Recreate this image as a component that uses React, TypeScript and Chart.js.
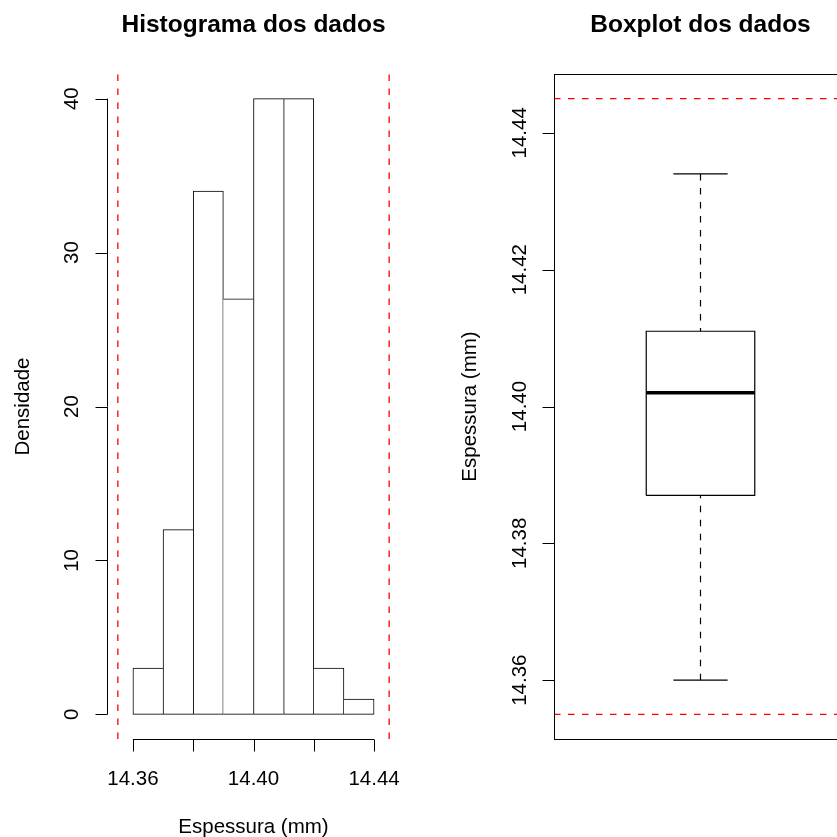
import React, { useEffect, useRef } from "react";
import { Chart, registerables } from "chart.js";

Chart.register(...registerables);

// ---------- data ----------
const binStarts = [14.36, 14.37, 14.38, 14.39, 14.4, 14.41, 14.42, 14.43];
const binWidth = 0.01;
const densities = [3, 12, 34, 27, 40, 40, 3, 1];

const histXTicks = [14.36, 14.38, 14.4, 14.42, 14.44];
const histXTickLabels = ["14.36", "", "14.40", "", "14.44"];
const histYTicks = [0, 10, 20, 30, 40];
const histYTickLabels = ["0", "10", "20", "30", "40"];
const histXRange = [14.3514, 14.4486];
const histYRange = [-1.6, 41.6];

const specLimits = [14.355, 14.445]; // LSL, USL

// min, q1, median, q3, max
const boxStats = [14.36, 14.387, 14.402, 14.411, 14.434];
const boxYTicks = [14.36, 14.38, 14.4, 14.42, 14.44];
const boxYTickLabels = ["14.36", "14.38", "14.40", "14.42", "14.44"];
const boxYRange = [14.3514, 14.4486];
const boxXRange = [0.46, 1.54];
const boxCenter = 1;
const boxHalfWidth = 0.2;
const capHalfWidth = 0.1;

const histTitle = "Histograma dos dados";
const histXLabel = "Espessura (mm)";
const histYLabel = "Densidade";
const boxTitle = "Boxplot dos dados";
const boxYLabel = "Espessura (mm)";

// ---------- style ----------
const FONT = "'Liberation Sans', Arial, Helvetica, sans-serif";
const AXIS_FONT = `20.5px ${FONT}`;
const TITLE_FONT = `bold 24.5px ${FONT}`;
const RED = "#ff0000";
const DASH = [6.5, 7.5];

function drawRotated(ctx: CanvasRenderingContext2D, text: string, x: number, y: number) {
  ctx.save();
  ctx.translate(x, y);
  ctx.rotate(-Math.PI / 2);
  ctx.textAlign = "center";
  ctx.textBaseline = "alphabetic";
  ctx.fillText(text, 0, 0);
  ctx.restore();
}

const histAxesPlugin = {
  id: "histAxes",
  afterDraw(chart: any) {
    const { ctx, chartArea } = chart;
    const xs = chart.scales.x;
    const ys = chart.scales.y;
    ctx.save();
    ctx.strokeStyle = "#000";
    ctx.fillStyle = "#000";
    ctx.lineWidth = 1;
    // y axis
    const ax = Math.round(chartArea.left) + 0.5;
    const yTop = ys.getPixelForValue(histYTicks[histYTicks.length - 1]);
    const yBot = ys.getPixelForValue(histYTicks[0]);
    ctx.beginPath();
    ctx.moveTo(ax, yBot);
    ctx.lineTo(ax, yTop);
    histYTicks.forEach((t) => {
      const py = Math.round(ys.getPixelForValue(t)) + 0.5;
      ctx.moveTo(ax - 12, py);
      ctx.lineTo(ax, py);
    });
    ctx.stroke();
    ctx.font = AXIS_FONT;
    histYTicks.forEach((t, i) => {
      drawRotated(ctx, histYTickLabels[i], chartArea.left - 29, ys.getPixelForValue(t));
    });
    // x axis
    const ay = Math.round(chartArea.bottom) + 0.5;
    ctx.beginPath();
    ctx.moveTo(xs.getPixelForValue(histXTicks[0]), ay);
    ctx.lineTo(xs.getPixelForValue(histXTicks[histXTicks.length - 1]), ay);
    histXTicks.forEach((t) => {
      const px = Math.round(xs.getPixelForValue(t)) + 0.5;
      ctx.moveTo(px, ay);
      ctx.lineTo(px, ay + 12);
    });
    ctx.stroke();
    ctx.textAlign = "center";
    ctx.textBaseline = "alphabetic";
    histXTicks.forEach((t, i) => {
      if (histXTickLabels[i]) ctx.fillText(histXTickLabels[i], xs.getPixelForValue(t), chartArea.bottom + 46);
    });
    // labels
    const cx = (chartArea.left + chartArea.right) / 2;
    ctx.fillText(histXLabel, cx, chartArea.bottom + 94);
    drawRotated(ctx, histYLabel, chartArea.left - 78, (chartArea.top + chartArea.bottom) / 2);
    ctx.font = TITLE_FONT;
    ctx.textAlign = "center";
    ctx.fillText(histTitle, cx, 32);
    ctx.restore();
  },
};

const boxAxesPlugin = {
  id: "boxAxes",
  afterDraw(chart: any) {
    const { ctx, chartArea } = chart;
    const ys = chart.scales.y;
    ctx.save();
    ctx.strokeStyle = "#000";
    ctx.fillStyle = "#000";
    ctx.lineWidth = 1;
    const l = Math.round(chartArea.left) + 0.5;
    const t = Math.round(chartArea.top) + 0.5;
    const r = Math.round(chartArea.right) + 0.5;
    const b = Math.round(chartArea.bottom) + 0.5;
    ctx.strokeRect(l, t, r - l, b - t);
    ctx.beginPath();
    boxYTicks.forEach((v) => {
      const py = Math.round(ys.getPixelForValue(v)) + 0.5;
      ctx.moveTo(l - 12, py);
      ctx.lineTo(l, py);
    });
    ctx.stroke();
    ctx.font = AXIS_FONT;
    boxYTicks.forEach((v, i) => {
      drawRotated(ctx, boxYTickLabels[i], chartArea.left - 28, ys.getPixelForValue(v));
    });
    drawRotated(ctx, boxYLabel, chartArea.left - 78, (chartArea.top + chartArea.bottom) / 2);
    const cx = (chartArea.left + chartArea.right) / 2;
    ctx.font = TITLE_FONT;
    ctx.textAlign = "center";
    ctx.textBaseline = "alphabetic";
    ctx.fillText(boxTitle, cx, 32);
    ctx.restore();
  },
};

function lineDs(points: { x: number; y: number }[], color: string, width: number, dash: number[] = []) {
  return {
    type: "line" as const,
    data: points,
    borderColor: color,
    borderWidth: width,
    borderDash: dash,
    pointRadius: 0,
    fill: false,
    tension: 0,
  };
}

export default function App() {
  const leftRef = useRef<HTMLCanvasElement>(null);
  const rightRef = useRef<HTMLCanvasElement>(null);

  useEffect(() => {
    const last = densities.length - 1;
    const histBars = {
      type: "bar" as const,
      data: binStarts.map((s, i) => ({ x: s + binWidth / 2, y: densities[i] })),
      backgroundColor: "#ffffff",
      borderColor: "#000000",
      borderSkipped: false,
      barPercentage: 1,
      categoryPercentage: 1,
      borderWidth: (c: any) => {
        const i = c.dataIndex;
        return {
          top: 1,
          bottom: 1,
          left: i === 0 || densities[i - 1] <= densities[i] ? 1 : 0,
          right: i === last || densities[i + 1] < densities[i] ? 1 : 0,
        };
      },
    };

    const specLinesV = specLimits.map((v) =>
      lineDs(
        [
          { x: v, y: histYRange[0] },
          { x: v, y: histYRange[1] },
        ],
        RED,
        1.3,
        DASH
      )
    );

    const c1 = new Chart(leftRef.current as HTMLCanvasElement, {
      type: "bar",
      data: { datasets: [histBars as any, ...(specLinesV as any[])] },
      options: {
        responsive: false,
        animation: false,
        devicePixelRatio: 1,
        events: [],
        layout: { padding: { left: 107, right: 20, top: 74, bottom: 98 } },
        plugins: { legend: { display: false }, tooltip: { enabled: false }, title: { display: false } },
        scales: {
          x: {
            type: "linear",
            min: histXRange[0],
            max: histXRange[1],
            offset: false,
            display: false,
            ticks: { stepSize: 0.02, includeBounds: false },
          },
          y: { type: "linear", min: histYRange[0], max: histYRange[1], display: false },
        },
      } as any,
      plugins: [histAxesPlugin],
    });

    const [mn, q1, med, q3, mx] = boxStats;
    const bl = boxCenter - boxHalfWidth;
    const br = boxCenter + boxHalfWidth;
    const boxDatasets = [
      ...specLimits.map((v) =>
        lineDs(
          [
            { x: boxXRange[0], y: v },
            { x: boxXRange[1], y: v },
          ],
          RED,
          1.3,
          DASH
        )
      ),
      lineDs(
        [
          { x: bl, y: q1 },
          { x: br, y: q1 },
          { x: br, y: q3 },
          { x: bl, y: q3 },
          { x: bl, y: q1 },
        ],
        "#000",
        1.2
      ),
      lineDs(
        [
          { x: bl, y: med },
          { x: br, y: med },
        ],
        "#000",
        3.6
      ),
      lineDs(
        [
          { x: boxCenter, y: mx },
          { x: boxCenter, y: q3 },
        ],
        "#000",
        1.2,
        DASH
      ),
      lineDs(
        [
          { x: boxCenter, y: mn },
          { x: boxCenter, y: q1 },
        ],
        "#000",
        1.2,
        DASH
      ),
      lineDs(
        [
          { x: boxCenter - capHalfWidth, y: mx },
          { x: boxCenter + capHalfWidth, y: mx },
        ],
        "#000",
        1.2
      ),
      lineDs(
        [
          { x: boxCenter - capHalfWidth, y: mn },
          { x: boxCenter + capHalfWidth, y: mn },
        ],
        "#000",
        1.2
      ),
    ];

    const c2 = new Chart(rightRef.current as HTMLCanvasElement, {
      type: "line",
      data: { datasets: boxDatasets as any[] },
      options: {
        responsive: false,
        animation: false,
        devicePixelRatio: 1,
        events: [],
        layout: { padding: { left: 134, right: 10, top: 74, bottom: 98 } },
        plugins: { legend: { display: false }, tooltip: { enabled: false }, title: { display: false } },
        scales: {
          x: { type: "linear", min: boxXRange[0], max: boxXRange[1], display: false },
          y: { type: "linear", min: boxYRange[0], max: boxYRange[1], display: false },
        },
      } as any,
      plugins: [boxAxesPlugin],
    });

    return () => {
      c1.destroy();
      c2.destroy();
    };
  }, []);

  return (
    <div
      style={{
        position: "fixed",
        left: 0,
        top: 0,
        width: 837,
        height: 837,
        overflow: "hidden",
        background: "#ffffff",
      }}
    >
      <canvas
        ref={leftRef}
        width={420}
        height={837}
        style={{ position: "absolute", left: 0, top: 0, width: 420, height: 837 }}
      />
      <canvas
        ref={rightRef}
        width={437}
        height={837}
        style={{ position: "absolute", left: 420, top: 0, width: 437, height: 837 }}
      />
    </div>
  );
}
